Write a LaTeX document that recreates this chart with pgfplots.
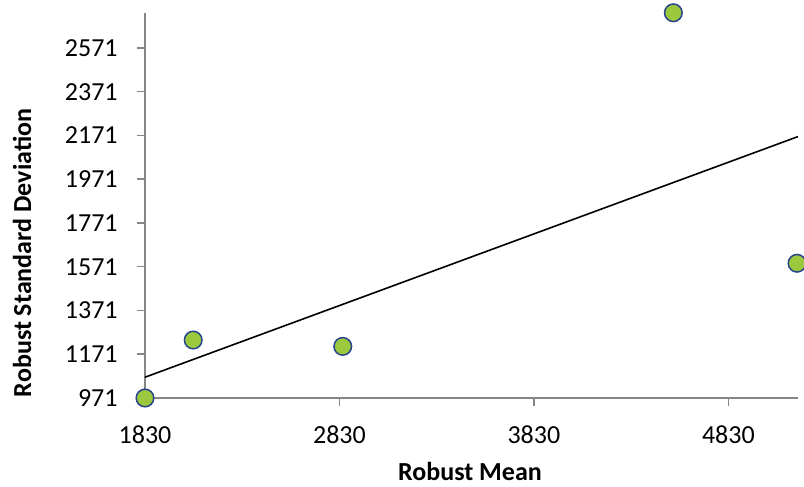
\documentclass[border=0pt]{standalone}
\usepackage{fontspec}
\setmainfont{Carlito}
\usepackage{pgfplots}
\pgfplotsset{compat=1.18}
\definecolor{ptfill}{RGB}{155,200,60}
\definecolor{ptedge}{RGB}{40,68,140}
\definecolor{axgray}{RGB}{134,134,134}
\begin{document}
\begin{tikzpicture}
\begin{axis}[
  scale only axis,
  width=326.5pt, height=192.5pt,
  xmin=1830, xmax=5188,
  ymin=971, ymax=2731,
  clip=false,
  axis x line*=bottom,
  axis y line*=left,
  axis line style={axgray, line width=0.75pt, -},
  xtick={1830,2830,3830,4830},
  ytick={971,1171,1371,1571,1771,1971,2171,2371,2571},
  tick align=outside,
  major tick length=4pt,
  tick style={axgray, line width=0.75pt},
  /pgf/number format/1000 sep={},
  /pgf/number format/assume math mode=true,
  tick label style={font=\fontsize{13}{15}\selectfont, black},
  yticklabel style={inner sep=0pt, anchor=east, xshift=-9.5pt},
  xticklabel style={inner sep=0pt, anchor=north, yshift=-9.5pt},
  xlabel={\textbf{Robust Mean}},
  ylabel={\textbf{Robust Standard Deviation}},
  label style={font=\fontsize{13}{15}\selectfont},
  xlabel style={at={(axis description cs:0.4977,-0.191)}, anchor=center, inner sep=0pt},
  ylabel style={at={(axis description cs:-0.18836,0.37662)}, anchor=center, rotate=0, inner sep=0pt},
]
\addplot[black, line width=0.8pt] coordinates {(1830,1066) (5188,2166)};
\addplot[only marks, mark=*, mark size=4.4pt,
  mark options={fill=ptfill, draw=ptedge, line width=0.75pt}]
  coordinates {
  (1830,971)
  (2078,1236)
  (2847,1207)
  (4547,2732)
  (5183,1587)
};
\end{axis}
\pgfresetboundingbox
\path (-72.5pt,-44.5pt) rectangle (329.5pt,199pt);
\end{tikzpicture}
\end{document}
